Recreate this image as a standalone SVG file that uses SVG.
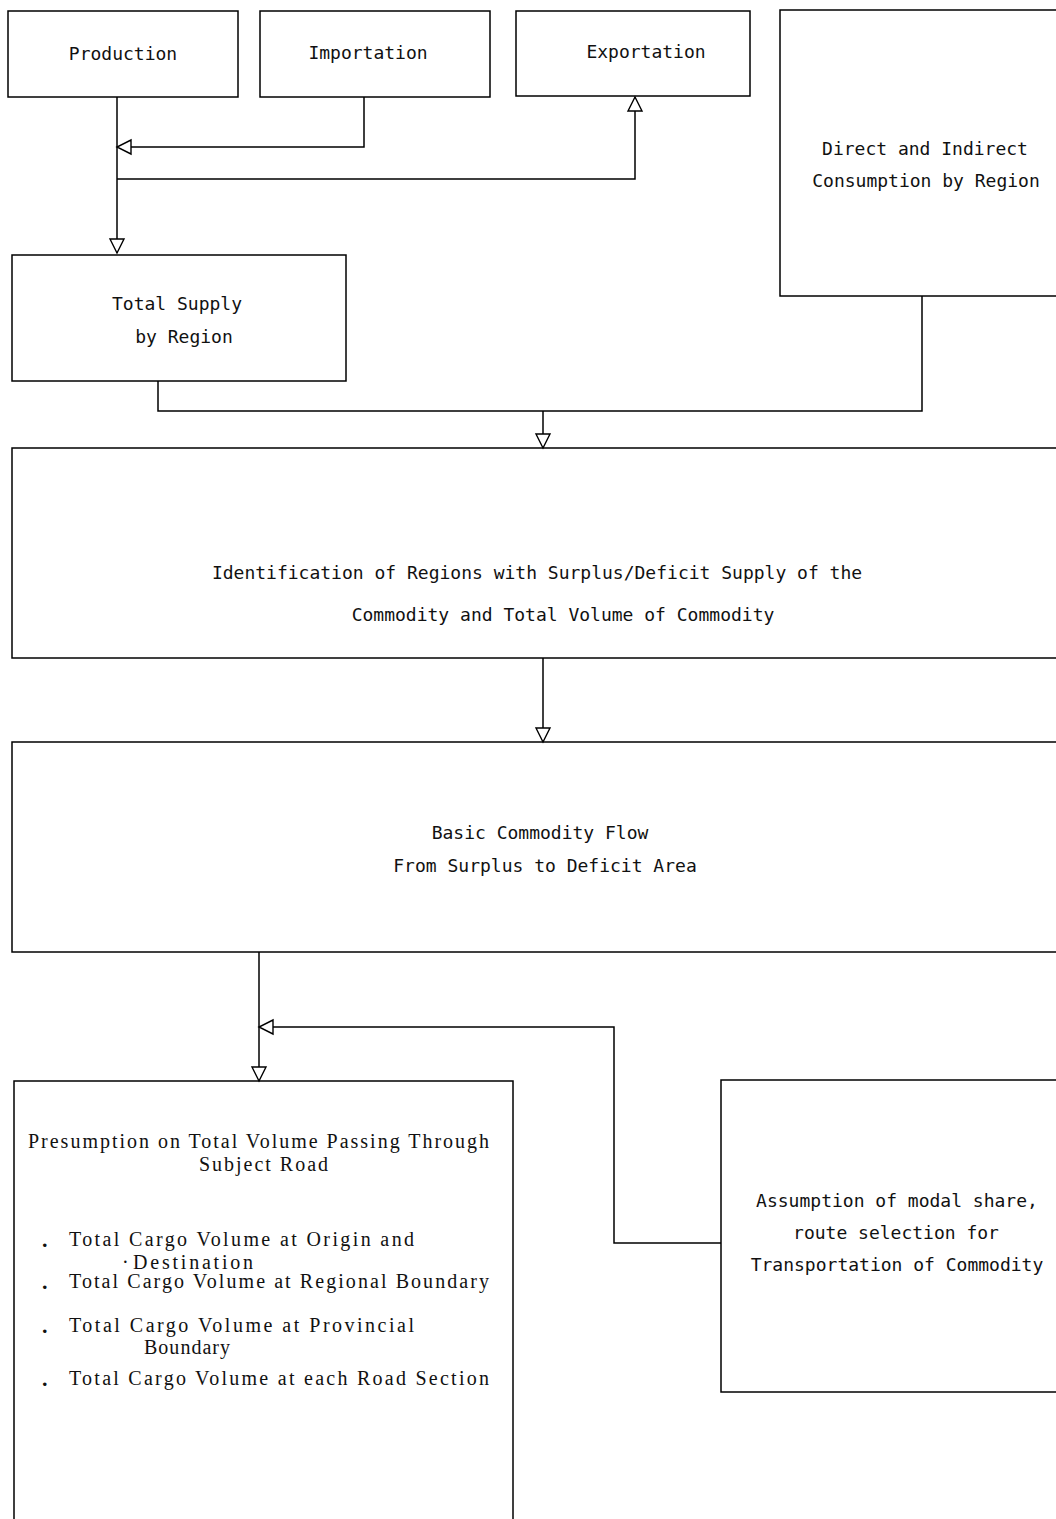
<svg xmlns="http://www.w3.org/2000/svg" width="1056" height="1519" viewBox="0 0 1056 1519">
<style>
.box{fill:none;stroke:#000;stroke-width:1.5}
.ln{fill:none;stroke:#000;stroke-width:1.5}
.t{font-family:"DejaVu Sans Mono","Liberation Mono",monospace;font-size:18px;fill:#111;text-anchor:middle}
.s{font-family:"Liberation Serif","Times New Roman",serif;font-size:20px;fill:#111}
.b{font-family:"Liberation Serif","Times New Roman",serif;font-size:22px;font-weight:bold;fill:#111}
</style>
<defs>
<marker id="arr" markerUnits="userSpaceOnUse" markerWidth="18" markerHeight="16" refX="15" refY="7" orient="auto" overflow="visible">
<path d="M1,0 L15,7 L1,14 Z" fill="#fff" stroke="#000" stroke-width="1.4"/>
</marker>
</defs>
<rect width="1056" height="1519" fill="#fff"/>
<g id="connectors">
<path class="ln" d="M117,97 V253" marker-end="url(#arr)"/>
<path class="ln" d="M364,97 V147 H117" marker-end="url(#arr)"/>
<path class="ln" d="M117,179 H635 V97" marker-end="url(#arr)"/>
<path class="ln" d="M158,381 V411 H922 V296"/>
<path class="ln" d="M543,411 V448" marker-end="url(#arr)"/>
<path class="ln" d="M543,658 V742" marker-end="url(#arr)"/>
<path class="ln" d="M259,952 V1081" marker-end="url(#arr)"/>
<path class="ln" d="M721,1243 H614 V1027 H259" marker-end="url(#arr)"/>
</g>
<g id="production">
<rect class="box" x="8" y="11" width="230" height="86"/>
<text class="t" x="123" y="60">Production</text>
</g>
<g id="importation">
<rect class="box" x="260" y="11" width="230" height="86"/>
<text class="t" x="368" y="59">Importation</text>
</g>
<g id="exportation">
<rect class="box" x="516" y="11" width="234" height="85"/>
<text class="t" x="646" y="58">Exportation</text>
</g>
<g id="consumption">
<rect class="box" x="780" y="10" width="290" height="286"/>
<text class="t" x="925" y="155">Direct and Indirect</text>
<text class="t" x="926" y="187">Consumption by Region</text>
</g>
<g id="total-supply">
<rect class="box" x="12" y="255" width="334" height="126"/>
<text class="t" x="177" y="310">Total Supply</text>
<text class="t" x="184" y="343">by Region</text>
</g>
<g id="identification">
<rect class="box" x="12" y="448" width="1060" height="210"/>
<text class="t" x="537" y="579">Identification of Regions with Surplus/Deficit Supply of the</text>
<text class="t" x="563" y="621">Commodity and Total Volume of Commodity</text>
</g>
<g id="basic-flow">
<rect class="box" x="12" y="742" width="1060" height="210"/>
<text class="t" x="540" y="839">Basic Commodity Flow</text>
<text class="t" x="545" y="872">From Surplus to Deficit Area</text>
</g>
<g id="presumption">
<rect class="box" x="14" y="1081" width="499" height="460"/>
<text class="s" x="28" y="1148" textLength="461" lengthAdjust="spacing">Presumption on Total Volume Passing Through</text>
<text class="s" x="199" y="1171" textLength="129" lengthAdjust="spacing">Subject Road</text>
<text class="b" x="42" y="1247">.</text>
<text class="s" x="69" y="1246" textLength="345" lengthAdjust="spacing">Total Cargo Volume at Origin and</text>
<text class="s" x="122" y="1269">·</text>
<text class="s" x="133" y="1269" textLength="120" lengthAdjust="spacing">Destination</text>
<text class="b" x="42" y="1289">.</text>
<text class="s" x="69" y="1288" textLength="420" lengthAdjust="spacing">Total Cargo Volume at Regional Boundary</text>
<text class="b" x="42" y="1333">.</text>
<text class="s" x="69" y="1332" textLength="345" lengthAdjust="spacing">Total Cargo Volume at Provincial</text>
<text class="s" x="144" y="1354" textLength="86" lengthAdjust="spacing">Boundary</text>
<text class="b" x="42" y="1386">.</text>
<text class="s" x="69" y="1385" textLength="420" lengthAdjust="spacing">Total Cargo Volume at each Road Section</text>
</g>
<g id="assumption">
<rect class="box" x="721" y="1080" width="350" height="312"/>
<text class="t" x="897" y="1207">Assumption of modal share,</text>
<text class="t" x="896" y="1239">route selection for</text>
<text class="t" x="897" y="1271">Transportation of Commodity</text>
</g>
</svg>
